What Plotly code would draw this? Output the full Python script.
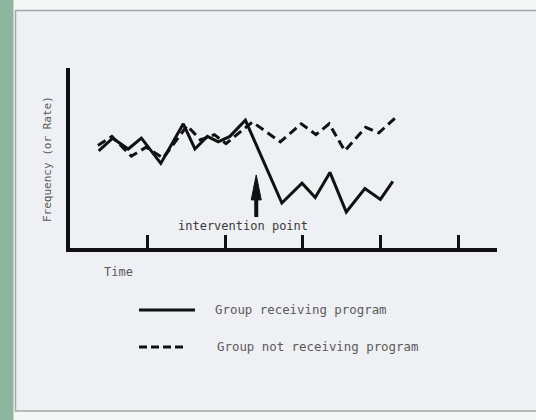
import plotly.graph_objects as go

# Time series for the two groups (time in tick units, frequency on a 0-10 scale)
time_program = [0.37, 0.55, 0.75, 0.92, 1.17, 1.46, 1.61, 1.77, 1.91, 2.06, 2.26,
                2.73, 2.99, 3.16, 3.35, 3.56, 3.80, 4.00, 4.16]
freq_program = [5.4, 6.1, 5.5, 6.1, 4.7, 6.9, 5.5, 6.2, 5.9, 6.2, 7.1,
                2.5, 3.6, 2.8, 4.2, 2.0, 3.3, 2.7, 3.7]

time_control = [0.36, 0.54, 0.79, 0.98, 1.20, 1.51, 1.68, 1.86, 2.01, 2.35,
                2.71, 2.98, 3.17, 3.34, 3.54, 3.81, 3.98, 4.21]
freq_control = [5.7, 6.2, 5.1, 5.6, 5.0, 6.8, 6.0, 6.3, 5.8, 7.0,
                5.9, 6.9, 6.3, 6.9, 5.4, 6.7, 6.4, 7.3]

tick_times = [1, 2, 3, 4, 5]
intervention_time = 2.40
arrow_tail, arrow_tip = 1.72, 4.06

series_names = ["Group receiving program", "Group not receiving program"]
y_title = "Frequency (or Rate)"
x_title = "Time"
intervention_label = "intervention point"

W, H = 536, 420
L, R, T, B = 70, 497, 68, 248  # plot area in pixels
X_MAX, Y_MAX = (R - L) / 77.6, 10.0
UX = (R - L) / X_MAX   # pixels per time unit
UY = (B - T) / Y_MAX   # pixels per frequency unit


def px(xp):
    return (xp - L) / (R - L)


def py(yp):
    return (B - yp) / (B - T)


INK = "#111111"
TEXT = "#5a5a5a"
FONT = "DejaVu Sans Mono"

fig = go.Figure()
fig.add_trace(go.Scatter(x=time_program, y=freq_program, mode="lines",
                         name=series_names[0],
                         line=dict(color=INK, width=3), showlegend=False))
fig.add_trace(go.Scatter(x=time_control, y=freq_control, mode="lines",
                         name=series_names[1],
                         line=dict(color=INK, width=3, dash="9px,5px"),
                         showlegend=False))

# Intervention arrow: shaft plus a long narrow head
head_len = 25 / UY
head_half = 5 / UX
head_base = arrow_tip - head_len
arrow_head = (f"M {intervention_time - head_half},{head_base} "
              f"L {intervention_time},{arrow_tip} "
              f"L {intervention_time + head_half},{head_base} Z")

shapes = [
    # green strip on the left edge
    dict(type="rect", xref="paper", yref="paper", x0=px(-2), x1=px(13.5),
         y0=py(H + 2), y1=py(-2), fillcolor="#8db69e", line=dict(width=0),
         layer="below"),
    # light panel with grey border
    dict(type="rect", xref="paper", yref="paper", x0=px(15.5), x1=px(W + 5),
         y0=py(411), y1=py(10.5), fillcolor="#eef0f3",
         line=dict(color="#a4a7a8", width=1.5), layer="below"),
    dict(type="line", xref="x", yref="y", x0=intervention_time,
         x1=intervention_time, y0=arrow_tail, y1=head_base + 0.1,
         line=dict(color=INK, width=4)),
    dict(type="path", xref="x", yref="y", path=arrow_head, fillcolor=INK,
         line=dict(color=INK, width=1)),
    # legend samples
    dict(type="line", xref="paper", yref="paper", x0=px(139), x1=px(195),
         y0=py(310), y1=py(310), line=dict(color=INK, width=3)),
    dict(type="line", xref="paper", yref="paper", x0=px(139), x1=px(186),
         y0=py(347), y1=py(347), line=dict(color=INK, width=3, dash="8px,4px")),
]

annotations = [
    dict(x=px(243), y=py(226), xref="paper", yref="paper", text=intervention_label,
         xanchor="center", yanchor="middle", showarrow=False,
         font=dict(family=FONT, size=12, color="#3a3a3a")),
    dict(x=px(118), y=py(272), xref="paper", yref="paper", text=x_title,
         xanchor="center", yanchor="middle", showarrow=False,
         font=dict(family=FONT, size=12, color=TEXT)),
    dict(x=px(47), y=py(159), xref="paper", yref="paper", text=y_title,
         xanchor="center", yanchor="middle", textangle=-90, showarrow=False,
         font=dict(family=FONT, size=11, color=TEXT)),
    dict(x=px(213), y=py(309), xref="paper", yref="paper", text=series_names[0],
         xanchor="left", yanchor="middle", showarrow=False,
         font=dict(family=FONT, size=12.4, color=TEXT)),
    dict(x=px(215), y=py(346), xref="paper", yref="paper", text=series_names[1],
         xanchor="left", yanchor="middle", showarrow=False,
         font=dict(family=FONT, size=12.4, color=TEXT)),
]

fig.update_layout(
    width=W, height=H,
    margin=dict(l=L, r=W - R, t=T, b=H - B, pad=0),
    paper_bgcolor="#f5f6f6", plot_bgcolor="rgba(0,0,0,0)",
    shapes=shapes, annotations=annotations, showlegend=False,
    xaxis=dict(range=[0, X_MAX], showline=True, linewidth=4,
               linecolor=INK, showgrid=False, zeroline=False,
               tickvals=tick_times, ticks="inside", ticklen=13, tickwidth=3,
               tickcolor=INK, showticklabels=False, fixedrange=True),
    yaxis=dict(range=[0, Y_MAX], showline=True, linewidth=4, linecolor=INK,
               showgrid=False, zeroline=False, ticks="", showticklabels=False,
               fixedrange=True),
)

fig.write_html("out.html", config=dict(displayModeBar=False))
